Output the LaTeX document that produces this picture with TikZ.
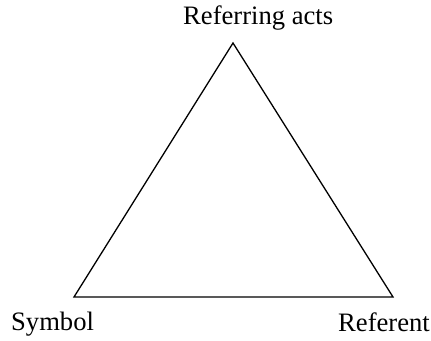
\documentclass[tikz,border=0pt]{standalone}
\usepackage{fontspec}
\setmainfont{Liberation Serif}
\usepackage{tikz}
\usetikzlibrary{positioning}

\begin{document}
\begin{tikzpicture}[
    x=1pt, y=-1pt,
    corner label/.style={font=\fontsize{26.6}{30}\selectfont,
                         inner sep=0pt, anchor=base west},
    side/.style={line width=1.3pt, line join=miter}
]
\useasboundingbox (0,0) rectangle (431,340);
\coordinate (top) at (233,43);
\coordinate (left) at (74,297);
\coordinate (right) at (393,297);
\draw[side] (top) -- (left) -- (right) -- cycle;
\node[corner label] (acts) at (183,24) {Referring acts};
\node[corner label] (symbol) at (11,330) {Symbol};
\node[corner label] (referent) at (338,331) {Referent};
\end{tikzpicture}
\end{document}
